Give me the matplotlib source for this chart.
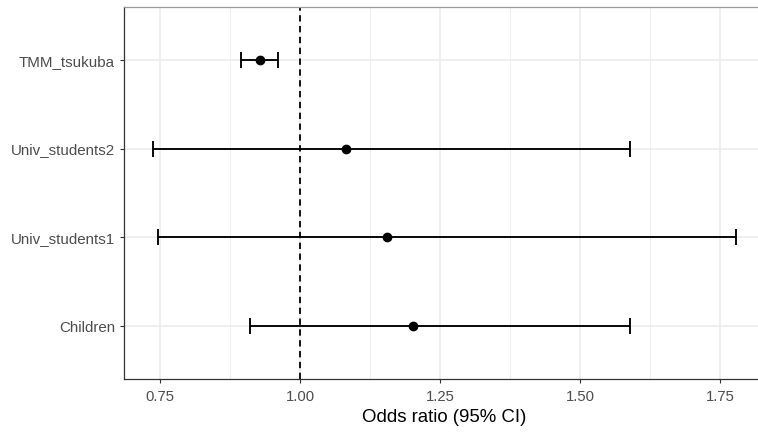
import matplotlib
matplotlib.use("Agg")
import matplotlib.pyplot as plt
from matplotlib.ticker import MultipleLocator

categories = ["Children", "Univ_students1", "Univ_students2", "TMM_tsukuba"]
odds_ratio = [1.202, 1.155, 1.083, 0.928]
ci_low = [0.911, 0.746, 0.737, 0.894]
ci_high = [1.589, 1.779, 1.589, 0.961]
xtick_values = [0.75, 1.00, 1.25, 1.50, 1.75]
xtick_labels = ["0.75", "1.00", "1.25", "1.50", "1.75"]

plt.rcParams['font.family'] = ['Liberation Sans', 'DejaVu Sans']

W, H = 758, 433
fig = plt.figure(figsize=(W / 100, H / 100), dpi=100)
left_px, right_px, top_px, bottom_px = 123.5, 765.4, 7.0, 379.3
ax = fig.add_axes([left_px / W, 1 - bottom_px / H,
                   (right_px - left_px) / W, (bottom_px - top_px) / H])

ypos = list(range(1, len(categories) + 1))
lo_err = [o - l for o, l in zip(odds_ratio, ci_low)]
hi_err = [h - o for o, h in zip(odds_ratio, ci_high)]

ax.axvline(1.0, color="black", linestyle=(0, (3.5, 2.5)), linewidth=1.3, zorder=2)
ax.errorbar(odds_ratio, ypos, xerr=[lo_err, hi_err], fmt="o", color="black",
            ecolor="black", elinewidth=1.35, capsize=6.0, capthick=1.35,
            markersize=6, zorder=3)

span = max(ci_high) - min(ci_low)
ax.set_xlim(min(ci_low) - 0.05 * span, max(ci_high) + 0.05 * span)
ax.set_ylim(0.4, len(categories) + 0.6)

ax.set_xticks(xtick_values)
ax.set_xticklabels(xtick_labels)
ax.xaxis.set_minor_locator(MultipleLocator(0.125))
ax.set_yticks(ypos)
ax.set_yticklabels(categories)

ax.grid(True, which="major", color="#EBEBEB", linewidth=1.1, zorder=0)
ax.grid(True, which="minor", axis="x", color="#EBEBEB", linewidth=0.55, zorder=0)
ax.set_axisbelow(True)

ax.tick_params(axis="x", which="major", length=3, width=0.8, color="#333333",
               labelsize=10.7, labelcolor="#4D4D4D", pad=4.5)
ax.tick_params(axis="x", which="minor", length=0)
ax.tick_params(axis="y", length=3, width=0.8, color="#333333",
               labelsize=10.9, labelcolor="#4D4D4D", pad=3.2)

for s in ["left", "bottom"]:
    ax.spines[s].set_color("#333333")
    ax.spines[s].set_linewidth(0.9)
ax.spines["top"].set_color("#999999")
ax.spines["top"].set_linewidth(0.9)
ax.spines["right"].set_visible(False)

ax.set_xlabel("Odds ratio (95% CI)", fontsize=13.4, color="black", labelpad=4)
ax.set_ylabel("")

fig.savefig("out.png", dpi=100)
